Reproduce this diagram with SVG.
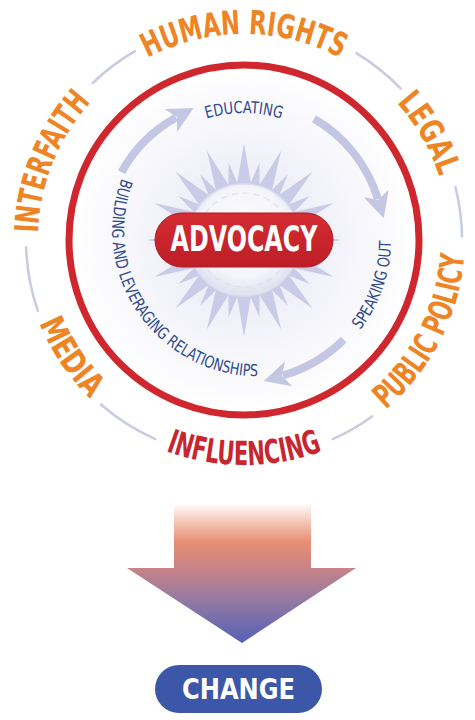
<svg xmlns="http://www.w3.org/2000/svg" xmlns:xlink="http://www.w3.org/1999/xlink" width="475" height="720" viewBox="0 0 475 720">
<style>
.cond{font-family:"Liberation Sans Narrow","DejaVu Sans Condensed","Roboto Condensed","Arial Narrow","Liberation Sans",sans-serif;font-stretch:condensed;font-weight:bold}
.outer{font-size:33px;fill:#ef8424}
.infl{font-size:33px;fill:#c8262f}
.inner{font-size:16.5px;fill:#2f4a8c;font-weight:normal}
.gray{fill:none;stroke:#c9cbe1;stroke-width:2.5;stroke-linecap:round}
.flow{fill:none;stroke:#c3c7e3;stroke-width:8}
.spike{fill:#c9cbe7}
</style>
<defs>
<radialGradient id="glow" cx="244" cy="240" r="172" gradientUnits="userSpaceOnUse">
<stop offset="0" stop-color="#e4e5f3"/>
<stop offset="0.55" stop-color="#f3f3fa"/>
<stop offset="1" stop-color="#ffffff"/>
</radialGradient>
<radialGradient id="disk" cx="244" cy="232" r="60" gradientUnits="userSpaceOnUse">
<stop offset="0" stop-color="#ffffff"/>
<stop offset="0.75" stop-color="#f4f4fa"/>
<stop offset="1" stop-color="#e2e3f1"/>
</radialGradient>
<linearGradient id="pill" x1="0" y1="0" x2="0" y2="1">
<stop offset="0" stop-color="#d52c33"/>
<stop offset="1" stop-color="#bd1e26"/>
</linearGradient>
<linearGradient id="bigArrow" x1="0" y1="503" x2="0" y2="643" gradientUnits="userSpaceOnUse">
<stop offset="0" stop-color="#ffffff"/>
<stop offset="0.12" stop-color="#f5cdbd"/>
<stop offset="0.28" stop-color="#e88e74"/>
<stop offset="0.48" stop-color="#c48288"/>
<stop offset="0.7" stop-color="#9479a3"/>
<stop offset="1" stop-color="#5560b6"/>
</linearGradient>
<marker id="head" viewBox="0 0 26 26" refX="6" refY="13" markerWidth="26" markerHeight="26" markerUnits="userSpaceOnUse" orient="auto">
<path d="M0,0 L26,13 L0,26 L7,13 Z" fill="#c3c7e3"/>
</marker>
<path id="spL" class="spike" d="M-8,-50 L0,-97 L8,-50 Z"/>
<path id="spS" class="spike" d="M-6,-50 L0,-79 L6,-50 Z"/>
<path id="pHR" d="M38,240 A206,206 0 0 1 450,240"/>
<path id="pLegal" d="M141,61.6 A206,206 0 0 1 347,418.4"/>
<path id="pInter" d="M166.8,431 A206,206 0 0 1 321.2,49"/>
<path id="pPP" d="M142.8,438.7 A223,223 0 0 0 345.2,41.3"/>
<path id="pInfl" d="M19,240 A225,225 0 0 0 469,240"/>
<path id="pMedia" d="M118.2,53.5 A225,225 0 0 0 369.8,426.5"/>
<path id="pEdu" d="M117,240 A127,127 0 0 1 371,240"/>
<path id="pSpeak" d="M196.1,379 A147,147 0 0 0 291.9,101"/>
<path id="pBuild" d="M161.9,120.5 A146,146 0 0 0 326.1,359.5"/>
</defs>

<rect width="475" height="720" fill="#ffffff"/>

<g id="outer-ring">
<path class="gray" d="M356.3,53.1 A218,218 0 0 1 400.8,88.6"/>
<path class="gray" d="M455.5,187.3 A218,218 0 0 1 462,236.2"/>
<path class="gray" d="M372.1,416.4 A218,218 0 0 1 332.7,439.1"/>
<path class="gray" d="M155.3,439.1 A218,218 0 0 1 101,404.5"/>
<path class="gray" d="M37.9,311 A218,218 0 0 1 26.1,247.6"/>
<path class="gray" d="M92.6,83.2 A218,218 0 0 1 135,51.2"/>
</g>

<g id="human-rights"><text class="cond outer" text-anchor="middle"><textPath href="#pHR" xlink:href="#pHR" startOffset="50%" textLength="201" lengthAdjust="spacingAndGlyphs">HUMAN RIGHTS</textPath></text></g>
<g id="legal"><text class="cond outer" text-anchor="middle"><textPath href="#pLegal" xlink:href="#pLegal" startOffset="50%" textLength="86" lengthAdjust="spacingAndGlyphs">LEGAL</textPath></text></g>
<g id="public-policy"><text class="cond outer" text-anchor="middle"><textPath href="#pPP" xlink:href="#pPP" startOffset="50%" textLength="178" lengthAdjust="spacingAndGlyphs">PUBLIC POLICY</textPath></text></g>
<g id="influencing"><text class="cond infl" text-anchor="middle"><textPath href="#pInfl" xlink:href="#pInfl" startOffset="50%" textLength="160" lengthAdjust="spacingAndGlyphs">INFLUENCING</textPath></text></g>
<g id="media"><text class="cond outer" text-anchor="middle"><textPath href="#pMedia" xlink:href="#pMedia" startOffset="50%" textLength="92" lengthAdjust="spacingAndGlyphs">MEDIA</textPath></text></g>
<g id="interfaith"><text class="cond outer" text-anchor="middle"><textPath href="#pInter" xlink:href="#pInter" startOffset="50%" textLength="144" lengthAdjust="spacingAndGlyphs">INTERFAITH</textPath></text></g>

<g id="advocacy-circle">
<circle cx="244" cy="240" r="172" fill="url(#glow)"/>
<circle cx="244" cy="240" r="175" fill="none" stroke="#d0262e" stroke-width="7"/>
</g>

<g id="connectors">
<path class="flow" d="M121.6,172.1 A140,140 0 0 1 176.1,117.6" marker-end="url(#head)"/>
<path class="flow" d="M314,118.8 A140,140 0 0 1 377.9,199.1" marker-end="url(#head)"/>
<path class="flow" d="M343.7,339.7 A141,141 0 0 1 282.9,375.5" marker-end="url(#head)"/>
</g>

<g id="educating"><text class="cond inner" text-anchor="middle"><textPath href="#pEdu" xlink:href="#pEdu" startOffset="50%" textLength="76" lengthAdjust="spacingAndGlyphs">EDUCATING</textPath></text></g>
<g id="speaking-out"><text class="cond inner" text-anchor="middle"><textPath href="#pSpeak" xlink:href="#pSpeak" startOffset="50%" textLength="96" lengthAdjust="spacingAndGlyphs">SPEAKING OUT</textPath></text></g>
<g id="building"><text class="cond inner" text-anchor="middle"><textPath href="#pBuild" xlink:href="#pBuild" startOffset="50%" textLength="282" lengthAdjust="spacingAndGlyphs">BUILDING AND LEVERAGING RELATIONSHIPS</textPath></text></g>

<g id="advocacy">
<g transform="translate(244,240)">
<use href="#spL" xlink:href="#spL" transform="rotate(0)"/>
<use href="#spL" xlink:href="#spL" transform="rotate(22.5)"/>
<use href="#spL" xlink:href="#spL" transform="rotate(45)"/>
<use href="#spL" xlink:href="#spL" transform="rotate(67.5)"/>
<use href="#spL" xlink:href="#spL" transform="rotate(90)"/>
<use href="#spL" xlink:href="#spL" transform="rotate(112.5)"/>
<use href="#spL" xlink:href="#spL" transform="rotate(135)"/>
<use href="#spL" xlink:href="#spL" transform="rotate(157.5)"/>
<use href="#spL" xlink:href="#spL" transform="rotate(180)"/>
<use href="#spL" xlink:href="#spL" transform="rotate(202.5)"/>
<use href="#spL" xlink:href="#spL" transform="rotate(225)"/>
<use href="#spL" xlink:href="#spL" transform="rotate(247.5)"/>
<use href="#spL" xlink:href="#spL" transform="rotate(270)"/>
<use href="#spL" xlink:href="#spL" transform="rotate(292.5)"/>
<use href="#spL" xlink:href="#spL" transform="rotate(315)"/>
<use href="#spL" xlink:href="#spL" transform="rotate(337.5)"/>
<use href="#spS" xlink:href="#spS" transform="rotate(11.25)"/>
<use href="#spS" xlink:href="#spS" transform="rotate(33.75)"/>
<use href="#spS" xlink:href="#spS" transform="rotate(56.25)"/>
<use href="#spS" xlink:href="#spS" transform="rotate(78.75)"/>
<use href="#spS" xlink:href="#spS" transform="rotate(101.25)"/>
<use href="#spS" xlink:href="#spS" transform="rotate(123.75)"/>
<use href="#spS" xlink:href="#spS" transform="rotate(146.25)"/>
<use href="#spS" xlink:href="#spS" transform="rotate(168.75)"/>
<use href="#spS" xlink:href="#spS" transform="rotate(191.25)"/>
<use href="#spS" xlink:href="#spS" transform="rotate(213.75)"/>
<use href="#spS" xlink:href="#spS" transform="rotate(236.25)"/>
<use href="#spS" xlink:href="#spS" transform="rotate(258.75)"/>
<use href="#spS" xlink:href="#spS" transform="rotate(281.25)"/>
<use href="#spS" xlink:href="#spS" transform="rotate(303.75)"/>
<use href="#spS" xlink:href="#spS" transform="rotate(326.25)"/>
<use href="#spS" xlink:href="#spS" transform="rotate(348.75)"/>
</g>
<circle cx="244" cy="240" r="56" fill="url(#disk)" stroke="#dcdded" stroke-width="1.5"/>
<circle cx="244" cy="240" r="47" fill="none" stroke="#dfe0ee" stroke-width="1.2" stroke-dasharray="6 5"/>
<rect x="155" y="213" width="178" height="54" rx="27" fill="url(#pill)" stroke="#b01a22" stroke-width="1"/>
<text class="cond" x="244" y="251" text-anchor="middle" font-size="35" fill="#ffffff" textLength="147" lengthAdjust="spacingAndGlyphs">ADVOCACY</text>
</g>

<g id="big-arrow">
<polygon points="174,503 311,503 311,568 356,568 242,643 127,568 174,568" fill="url(#bigArrow)"/>
</g>

<g id="change">
<rect x="155" y="665" width="167" height="48" rx="24" fill="#3c56a8"/>
<text class="cond" x="238.5" y="699" text-anchor="middle" font-size="29" fill="#ffffff" textLength="113" lengthAdjust="spacingAndGlyphs">CHANGE</text>
</g>
</svg>
